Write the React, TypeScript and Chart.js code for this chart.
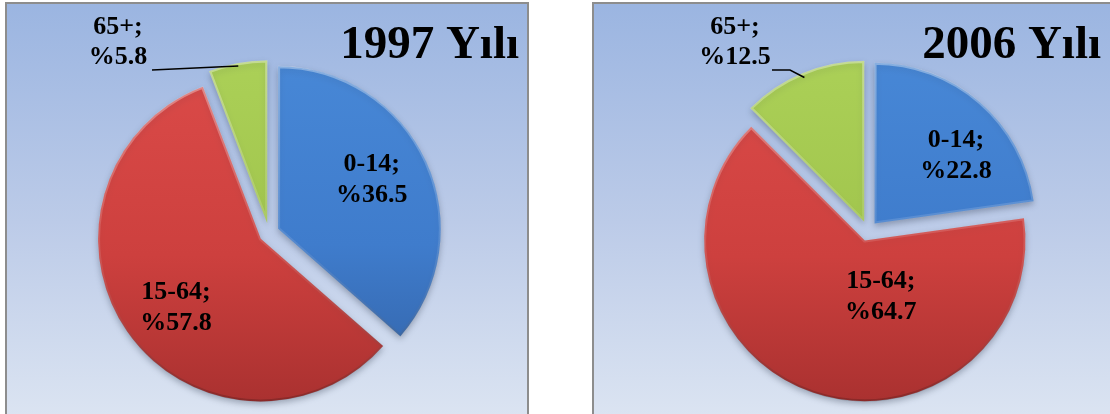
import React, { useEffect, useRef } from "react";
import { Chart, ArcElement, PieController } from "chart.js";

Chart.register(ArcElement, PieController);

// ---- data ----
const categories = ["0-14", "15-64", "65+"];
const values1997 = [36.5, 57.8, 5.8];
const values2006 = [22.8, 64.7, 12.5];
const titles = ["1997 Yılı", "2006 Yılı"];

// ---- style ----
const W = 1110;
const H = 414;
const EXPLODE = 10;
const FONT = '"Liberation Serif", "Times New Roman", serif';
const sliceColors = [
  ["#4787d6", "#3f7ccc", "#3262a6"],
  ["#da4a48", "#cd403e", "#aa3130"],
  ["#abd057", "#a1c54d", "#8aa83c"],
];

type LabelLayout = { angle: number; dist: number; outside?: boolean; lx?: number; ly?: number; leader?: number[][] };

const panels = [
  {
    values: values1997,
    title: titles[0],
    cx: 269,
    cy: 233,
    r: 163,
    titleX: 519,
    titleY: 58,
    labels: [
      { angle: 62, dist: 0.65 },
      { angle: 231, dist: 0.67 },
      { angle: 0, dist: 0.98, outside: true, lx: 118, ly: 42, leader: [[152, 70]] },
    ] as LabelLayout[],
  },
  {
    values: values2006,
    title: titles[1],
    cx: 868,
    cy: 231,
    r: 161,
    titleX: 1101,
    titleY: 58,
    labels: [
      { angle: 50, dist: 0.66 },
      { angle: 164, dist: 0.36 },
      { angle: 0, dist: 0.97, outside: true, lx: 735, ly: 42, leader: [[790, 70], [772, 70]] },
    ] as LabelLayout[],
  },
];

function makePlugin(panel: (typeof panels)[number]) {
  return {
    id: "decor",
    beforeDatasetsDraw(chart: any) {
      const meta = chart.getDatasetMeta(0);
      meta.data.forEach((el: any) => {
        if (el.__patched) return;
        el.__patched = true;
        el.draw = function (ctx: CanvasRenderingContext2D) {
          const half = (this.startAngle + this.endAngle) / 2;
          ctx.save();
          ctx.translate(Math.cos(half) * EXPLODE, Math.sin(half) * EXPLODE);
          ctx.shadowColor = "rgba(40,50,70,0.35)";
          ctx.shadowBlur = 6;
          ctx.shadowOffsetY = 3;
          (ArcElement.prototype as any).draw.call(this, ctx);
          ctx.restore();
        };
      });
    },
    afterDatasetsDraw(chart: any) {
      const ctx: CanvasRenderingContext2D = chart.ctx;
      const meta = chart.getDatasetMeta(0);
      ctx.save();
      ctx.fillStyle = "#000";
      ctx.strokeStyle = "#000";
      ctx.textAlign = "center";
      ctx.textBaseline = "middle";
      meta.data.forEach((el: any, i: number) => {
        const half = (el.startAngle + el.endAngle) / 2;
        const ox = el.x + Math.cos(half) * EXPLODE;
        const oy = el.y + Math.sin(half) * EXPLODE;
        const lay = panel.labels[i];
        const text1 = categories[i] + ";";
        const text2 = "%" + panel.values[i].toFixed(1);
        ctx.font = "bold 26px " + FONT;
        if (lay.outside) {
          const px = ox + Math.cos(half) * el.outerRadius * lay.dist;
          const py = oy + Math.sin(half) * el.outerRadius * lay.dist;
          ctx.lineWidth = 1.5;
          ctx.beginPath();
          ctx.moveTo(px, py);
          (lay.leader || []).forEach((p) => ctx.lineTo(p[0], p[1]));
          ctx.stroke();
          ctx.fillText(text1, lay.lx!, lay.ly! - 15);
          ctx.fillText(text2, lay.lx!, lay.ly! + 15);
        } else {
          const a = (lay.angle - 90) * (Math.PI / 180);
          const x = ox + Math.cos(a) * el.outerRadius * lay.dist;
          const y = oy + Math.sin(a) * el.outerRadius * lay.dist;
          ctx.fillText(text1, x, y - 15);
          ctx.fillText(text2, x, y + 16);
        }
      });
      ctx.font = "bold 47px " + FONT;
      ctx.textAlign = "right";
      ctx.textBaseline = "alphabetic";
      ctx.fillText(panel.title, panel.titleX, panel.titleY);
      ctx.restore();
    },
  };
}

function PieCanvas({ idx }: { idx: number }) {
  const ref = useRef<HTMLCanvasElement | null>(null);
  useEffect(() => {
    const panel = panels[idx];
    const half = 175;
    const chart = new Chart(ref.current!, {
      type: "pie",
      data: {
        labels: categories,
        datasets: [
          {
            data: panel.values,
            borderWidth: 2,
            borderAlign: "inner",
            borderColor: (c: any) => {
              const g = c.chart.ctx.createLinearGradient(0, panel.cy - panel.r, 0, panel.cy + panel.r);
              g.addColorStop(0, "rgba(255,255,255,0.35)");
              g.addColorStop(0.5, "rgba(255,255,255,0.12)");
              g.addColorStop(1, "rgba(0,0,0,0.18)");
              return g;
            },
            backgroundColor: (c: any) => {
              const col = sliceColors[c.dataIndex] || sliceColors[0];
              const g = c.chart.ctx.createLinearGradient(0, panel.cy - panel.r, 0, panel.cy + panel.r);
              g.addColorStop(0, col[0]);
              g.addColorStop(0.55, col[1]);
              g.addColorStop(1, col[2]);
              return g;
            },
          },
        ],
      },
      options: {
        responsive: false,
        animation: false,
        radius: panel.r,
        layout: {
          padding: {
            left: panel.cx - half,
            right: W - (panel.cx + half),
            top: panel.cy - half,
            bottom: H - (panel.cy + half),
          },
        },
        plugins: { legend: { display: false }, tooltip: { enabled: false } },
        events: [],
      } as any,
      plugins: [makePlugin(panel)],
    });
    return () => chart.destroy();
  }, [idx]);
  return (
    <canvas
      ref={ref}
      width={W}
      height={H}
      style={{ position: "absolute", left: 0, top: 0, width: W, height: H }}
    />
  );
}

const panelStyle = (left: number, width: number): React.CSSProperties => ({
  position: "absolute",
  left,
  top: 2,
  width,
  height: 440,
  boxSizing: "border-box",
  border: "2px solid #8d8d8d",
  background: "linear-gradient(to bottom, #9bb5e1 0%, #bccbe8 50%, #dfe7f3 100%)",
});

export default function App() {
  return (
    <div style={{ position: "fixed", left: 0, top: 0, width: W, height: H, overflow: "hidden", background: "#fff" }}>
      <div style={panelStyle(5, 524)} />
      <div style={panelStyle(592, 540)} />
      <PieCanvas idx={0} />
      <PieCanvas idx={1} />
    </div>
  );
}
